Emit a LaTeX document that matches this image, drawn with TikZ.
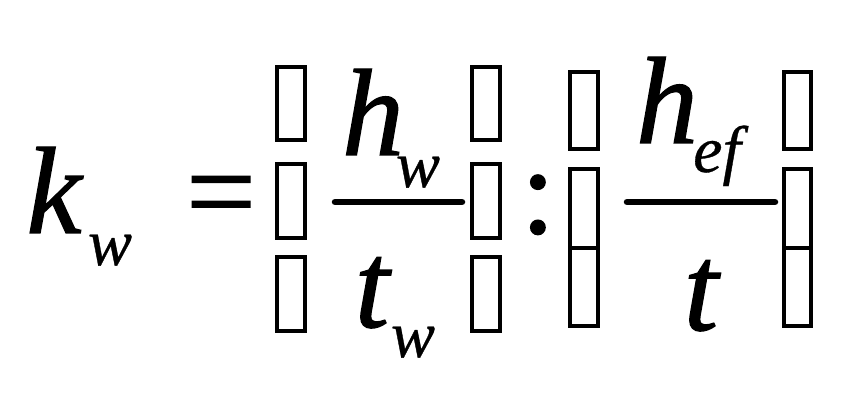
\documentclass[tikz,border=0pt]{standalone}
\usepackage{fontspec}
\setmainfont{Liberation Serif}
\newfontface\heavyit{Liberation Serif Italic}[FakeBold=1.0]
\newfontface\heavyup{Liberation Serif}[FakeBold=1.0]
\newfontface\lightit{Liberation Serif Italic}[FakeBold=0.5]
\usepackage{tikz}

\tikzset{
  big/.style={font=\fontsize{124}{124}\selectfont\heavyit, inner sep=0pt, anchor=base},
  sub/.style={font=\fontsize{66}{66}\selectfont\lightit, inner sep=0pt, anchor=base},
  upr/.style={font=\fontsize{124}{124}\selectfont\heavyup, inner sep=0pt, anchor=base},
  gapbox/.style={draw, line width=4pt},
  barline/.style={line width=6.5pt, line cap=round}
}

\begin{document}
\begin{tikzpicture}[x=1pt,y=1pt]
        \useasboundingbox (0,0) rectangle (860,406);
        % left side
        \node[big] (k) at (54,173) {k};
        \node[sub] (kw) at (110,141) {w};
        \node[upr] (eq) at (221,173) {=};
        % first fraction
        \foreach \xa/\xb in {277/305, 472/500}
          \foreach \ya/\yb in {339/266, 242/168, 149/75}
            \draw[gapbox] (\xa,\ya) rectangle (\xb,\yb);
        \node[big] (h1) at (373,251) {h};
        \node[sub] (h1w) at (418,219) {w};
        \draw[barline] (335,204) -- (462,204);
        \node[big] (t1) at (372,79) {t};
        \node[sub] (t1w) at (413,49) {w};
        % colon
        \node[upr] (col) at (538,173) {:};
        % second fraction
        \foreach \xa/\xb in {570/598, 784/811}
          \foreach \ya/\yb in {334/257, 237/158, 158/80}
            \draw[gapbox] (\xa,\ya) rectangle (\xb,\yb);
        \node[big] (h2) at (667,263) {h};
        \node[sub] (h2ef) at (717,234) {ef};
        \draw[barline] (627,204) -- (775,204);
        \node[big] (t2) at (701,76) {t};
\end{tikzpicture}
\end{document}
